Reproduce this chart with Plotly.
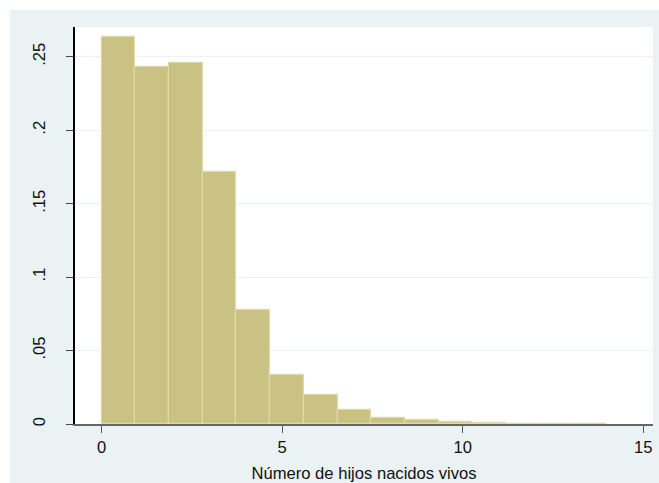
import numpy as np
import plotly.graph_objects as go

# Density histogram of "Número de hijos nacidos vivos" (15 bins over 0..14)
bin_lo = 0.0
bin_hi = 14.0
n_bins = 15
density = [0.2633, 0.2433, 0.2456, 0.1718, 0.0776, 0.0335, 0.0197, 0.0097,
           0.0041, 0.0025, 0.0014, 0.0007, 0.0003, 0.0002, 0.0001]

y_tickvals = [0, 0.05, 0.10, 0.15, 0.20, 0.25]
y_ticktext = ["0", ".05", ".1", ".15", ".2", ".25"]
x_tickvals = [0, 5, 10, 15]
x_ticktext = ["0", "5", "10", "15"]
x_title = "Número de hijos nacidos vivos"

edges = np.linspace(bin_lo, bin_hi, n_bins + 1)
width = edges[1] - edges[0]
centers = (edges[:-1] + edges[1:]) / 2

BG = "#EAF2F3"
FONT = "Arial, Liberation Sans, sans-serif"

fig = go.Figure()
fig.add_trace(go.Bar(
    x=centers, y=density, width=[width] * n_bins,
    marker=dict(color="rgb(201,194,131)",
                line=dict(color="rgb(224,218,170)", width=1.2)),
    hoverinfo="x+y",
))

W, H = 659, 483
ml, mr, mt, mb = 75, 6, 27, 59
pw = W - ml - mr
ph = H - mt - mb
edge = 10  # white strip (top/left) before the light outer region

fig.add_shape(type="rect", xref="paper", yref="paper",
              x0=-ml / pw - 0.01, x1=(edge - ml) / pw,
              y0=-mb / ph - 0.02, y1=1 + mt / ph + 0.02,
              fillcolor="white", line=dict(width=0), layer="below")
fig.add_shape(type="rect", xref="paper", yref="paper",
              x0=-ml / pw - 0.01, x1=1 + mr / pw + 0.02,
              y0=1 + (mt - edge) / ph, y1=1 + mt / ph + 0.02,
              fillcolor="white", line=dict(width=0), layer="below")

fig.update_layout(
    width=W, height=H,
    margin=dict(l=ml, r=mr, t=mt, b=mb, pad=0),
    paper_bgcolor=BG, plot_bgcolor="white",
    showlegend=False, bargap=0,
    font=dict(family=FONT, color="#111", size=16.6),
    xaxis=dict(range=[-0.737, 15.27], tickvals=x_tickvals, ticktext=x_ticktext,
               automargin=False,
               ticks="outside", ticklen=7, tickcolor="#555", tickwidth=1.3,
               showline=True, linecolor="#666", linewidth=1.5,
               showgrid=False, zeroline=False,
               tickfont=dict(size=16.6, color="#111"),
               title=dict(text=x_title, font=dict(size=16.6, color="#111"), standoff=16)),
    yaxis=dict(range=[0, 0.2703], tickvals=y_tickvals, ticktext=y_ticktext,
               automargin=False,
               tickangle=-90,
               ticks="outside", ticklen=7, tickcolor="#444", tickwidth=1.3,
               showline=True, linecolor="#000", linewidth=1.5,
               showgrid=True, gridcolor=BG, gridwidth=1.2,
               zeroline=False, ticklabelstandoff=15,
               tickfont=dict(size=16.6, color="#111")),
)

fig.write_html(
    "out.html",
    config={"displayModeBar": False},
    post_script="document.body.style.margin='0';document.body.style.overflow='hidden';",
)
